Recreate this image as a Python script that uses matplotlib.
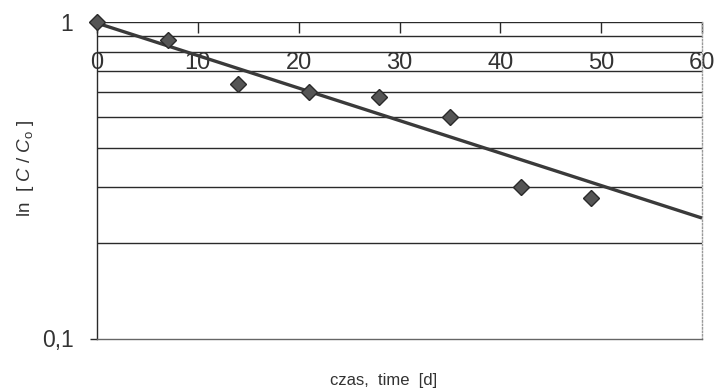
import matplotlib
matplotlib.use("Agg")
import matplotlib.pyplot as plt
from matplotlib.ticker import FixedLocator, NullFormatter, FixedFormatter

plt.rcParams['font.family'] = ['Liberation Sans', 'DejaVu Sans']
plt.rcParams['mathtext.fontset'] = 'custom'
plt.rcParams['mathtext.it'] = 'Liberation Sans:italic'
plt.rcParams['mathtext.rm'] = 'Liberation Sans'

# measured concentration ratios C/C0 over time
time_d = [0, 7, 14, 21, 28, 35, 42, 49]
ratio = [1.0, 0.876, 0.636, 0.601, 0.580, 0.499, 0.300, 0.277]

# exponential trend line, given by its end points
trend_x = [0, 60]
trend_y = [0.99, 0.24]

x_ticks = [0, 10, 20, 30, 40, 50, 60]
x_tick_labels = ["0", "10", "20", "30", "40", "50", "60"]
y_major = [0.1, 1]
y_major_labels = ["0,1", "1"]
y_grid = [0.2, 0.3, 0.4, 0.5, 0.6, 0.7, 0.8, 0.9, 1.0]

fig = plt.figure(figsize=(7.16, 3.91), dpi=100)
ax = fig.add_axes([97 / 716, 52.5 / 391, 605 / 716, 316.8 / 391])

ax.set_yscale('log')
ax.set_xlim(0, 60)
ax.set_ylim(0.1, 1)

for g in y_grid:
    ax.axhline(g, color='#2a2a2a', lw=1.0, zorder=1)

ax.plot(trend_x, trend_y, color='#3a3a3a', lw=2.4, zorder=3, solid_capstyle='butt')
ax.plot(time_d, ratio, linestyle='none', marker='D', markersize=8.5,
        markerfacecolor='#555555', markeredgecolor='#2a2a2a', markeredgewidth=1.0,
        zorder=4, clip_on=False)

# spines
ax.spines['left'].set_color('#2a2a2a')
ax.spines['left'].set_linewidth(1.0)
ax.spines['top'].set_visible(False)
ax.spines['bottom'].set_color('#666666')
ax.spines['bottom'].set_linewidth(1.0)
ax.spines['bottom'].set_linestyle((0, (4, 1)))
ax.spines['right'].set_color('#9a9a9a')
ax.spines['right'].set_linewidth(1.0)
ax.spines['right'].set_linestyle((0, (1, 1.5)))

# x axis sits on the y = 1 line, ticks pointing down, labels beneath
ax.xaxis.set_major_locator(FixedLocator(x_ticks))
ax.xaxis.set_major_formatter(FixedFormatter(x_tick_labels))
ax.tick_params(axis='x', which='major', top=True, bottom=False,
               labeltop=True, labelbottom=False, direction='in',
               length=8, width=1.0, color='#2a2a2a', pad=-38,
               labelsize=17, labelcolor='#333333')

ax.yaxis.set_major_locator(FixedLocator(y_major))
ax.yaxis.set_major_formatter(FixedFormatter(y_major_labels))
ax.yaxis.set_minor_formatter(NullFormatter())
ax.tick_params(axis='y', which='major', direction='out', length=5, width=1.0,
               color='#2a2a2a', pad=12, labelsize=16.5, labelcolor='#333333')
ax.tick_params(axis='y', which='minor', length=0)

fig.text(25 / 716, 1 - 168 / 391, r"ln  [ $C$ / $C_\mathrm{o}$ ]", rotation=90,
         ha='center', va='center', fontsize=13.5, color='#333333')
fig.text(384 / 716, 1 - 380 / 391, "czas,  time  [d]", ha='center', va='center',
         fontsize=12, color='#333333')

fig.savefig("out.png", dpi=100)
